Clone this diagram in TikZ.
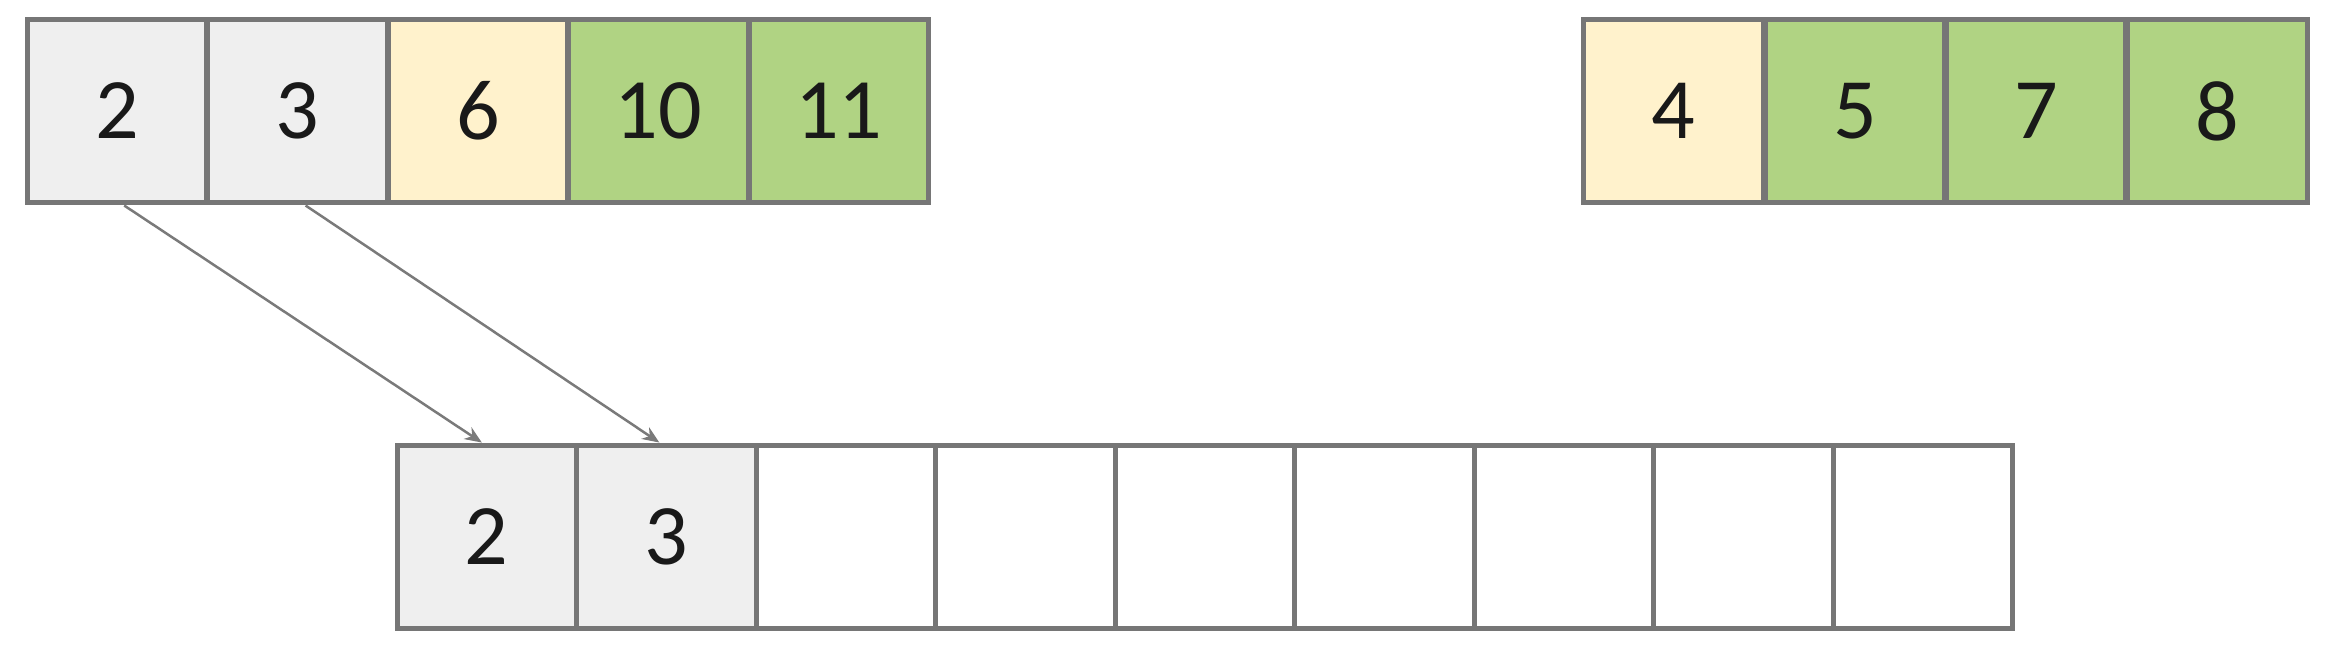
\documentclass[tikz,border=0pt]{standalone}
\usepackage{fontspec}
\setmainfont{Carlito}
\usetikzlibrary{arrows.meta}
\definecolor{cellgray}{HTML}{EFEFEF}
\definecolor{cellyellow}{HTML}{FFF2CC}
\definecolor{cellgreen}{HTML}{B0D383}
\definecolor{edgegray}{HTML}{767676}
\definecolor{arrowgray}{HTML}{7A7A7A}
\begin{document}
\begin{tikzpicture}[x=0.02cm,y=-0.02cm,
  cell/.style={draw=edgegray, line width=0.1cm, rectangle, inner sep=0pt,
    minimum width=3.59cm, minimum height=3.68cm,
    font=\fontsize{49}{50}\selectfont, text=black!90},
  grayc/.style={cell, fill=cellgray},
  yellowc/.style={cell, fill=cellyellow},
  greenc/.style={cell, fill=cellgreen},
  whitec/.style={cell, fill=white},
  link/.style={draw=arrowgray, line width=0.05cm,
    -{Stealth[length=0.34cm,width=0.28cm]}}]
\useasboundingbox (0,0) rectangle (2342,654);
% top-left array
\node[grayc]   (a1) at (117.2,111) {2};
\node[grayc]   (a2) at (297.6,111) {3};
\node[yellowc] (a3) at (478.0,111) {6};
\node[greenc]  (a4) at (658.4,111) {10};
\node[greenc]  (a5) at (838.8,111) {11};
% top-right array
\node[yellowc] (c1) at (1673.6,111) {4};
\node[greenc]  (c2) at (1854.9,111) {5};
\node[greenc]  (c3) at (2036.1,111) {7};
\node[greenc]  (c4) at (2217.4,111) {8};
% bottom array
\node[grayc]  (b1) at (486.8,537) {2};
\node[grayc]  (b2) at (666.3,537) {3};
\node[whitec] (b3) at (845.9,537) {};
\node[whitec] (b4) at (1025.4,537) {};
\node[whitec] (b5) at (1205.0,537) {};
\node[whitec] (b6) at (1384.6,537) {};
\node[whitec] (b7) at (1564.1,537) {};
\node[whitec] (b8) at (1743.7,537) {};
\node[whitec] (b9) at (1923.2,537) {};
% arrows
\draw[link] ([xshift=0.14cm]a1.south) -- ([xshift=-0.1cm]b1.north);
\draw[link] ([xshift=0.16cm]a2.south) -- ([xshift=-0.14cm]b2.north);
\end{tikzpicture}
\end{document}
